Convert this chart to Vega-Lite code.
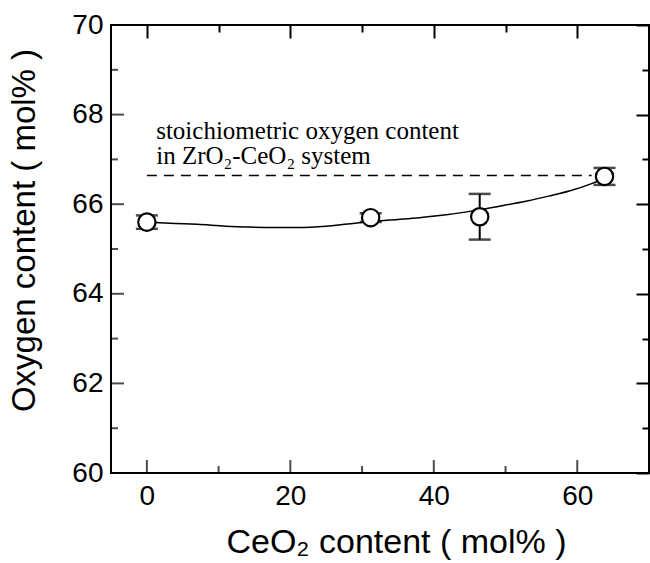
{
  "$schema": "https://vega.github.io/schema/vega-lite/v6.json",
  "width": 538,
  "height": 448,
  "autosize": {"type": "none"},
  "padding": {"left": 111, "top": 25, "right": 1, "bottom": 90},
  "background": "white",
  "config": {
    "view": {"stroke": "black", "strokeWidth": 2},
    "axis": {
      "domain": false,
      "grid": false,
      "labelFont": "Liberation Sans",
      "titleFont": "Liberation Sans",
      "labelColor": "black",
      "titleColor": "black",
      "tickColor": "black",
      "tickWidth": 2,
      "titleFontWeight": "normal"
    }
  },
  "datasets": {
    "curve": [
      {"x": 0, "y": 65.6}, {"x": 4, "y": 65.57}, {"x": 7, "y": 65.55}, {"x": 11, "y": 65.51},
      {"x": 14, "y": 65.49}, {"x": 18, "y": 65.48}, {"x": 21, "y": 65.48}, {"x": 25, "y": 65.51},
      {"x": 28, "y": 65.56}, {"x": 31, "y": 65.61}, {"x": 35, "y": 65.66}, {"x": 38, "y": 65.7},
      {"x": 42, "y": 65.77}, {"x": 45, "y": 65.84}, {"x": 49, "y": 65.95}, {"x": 53, "y": 66.07},
      {"x": 56, "y": 66.18}, {"x": 59, "y": 66.3}, {"x": 62, "y": 66.46}, {"x": 63.8, "y": 66.58}
    ],
    "points": [
      {"x": 0, "y": 65.6, "lo": 65.45, "hi": 65.75},
      {"x": 31.2, "y": 65.7, "lo": 65.6, "hi": 65.8},
      {"x": 46.4, "y": 65.72, "lo": 65.21, "hi": 66.23},
      {"x": 63.8, "y": 66.62, "lo": 66.43, "hi": 66.81}
    ],
    "stoich": [{"x": 0, "y": 66.64}, {"x": 62, "y": 66.64}],
    "notes": [
      {"x": 1.3, "y": 67.46, "text": "stoichiometric oxygen content"},
      {"x": 1.3, "y": 66.9, "text": "in ZrO₂-CeO₂ system"}
    ],
    "xMajor": [{"v": 0}, {"v": 20}, {"v": 40}, {"v": 60}],
    "xMinor": [{"v": 10}, {"v": 30}, {"v": 50}],
    "yMajor": [{"v": 62}, {"v": 64}, {"v": 66}, {"v": 68}],
    "yMinor": [{"v": 61}, {"v": 63}, {"v": 65}, {"v": 67}, {"v": 69}]
  },
  "layer": [
    {
      "data": {"name": "curve"},
      "mark": {"type": "line", "color": "black", "strokeWidth": 1.5, "interpolate": "monotone"},
      "encoding": {
        "x": {
          "field": "x", "type": "quantitative",
          "scale": {"domain": [-5, 70], "nice": false, "zero": false},
          "axis": {
            "orient": "top",
            "values": [0, 10, 20, 30, 40, 50, 60],
            "tickSize": {"condition": {"test": "datum.value % 20 === 0", "value": -13}, "value": -7},
            "labels": false,
            "title": null
          }
        },
        "y": {
          "field": "y", "type": "quantitative",
          "scale": {"domain": [60, 70], "nice": false, "zero": false},
          "axis": {
            "orient": "right",
            "values": [60, 61, 62, 63, 64, 65, 66, 67, 68, 69, 70],
            "tickSize": {"condition": {"test": "datum.value % 2 === 0", "value": -13}, "value": -7},
            "labels": false,
            "title": null
          }
        }
      }
    },
    {
      "data": {"name": "stoich"},
      "mark": {"type": "line", "color": "black", "strokeWidth": 1.5, "strokeDash": [10, 7]},
      "encoding": {
        "x": {
          "field": "x", "type": "quantitative",
          "axis": {
            "orient": "bottom",
            "values": [0, 20, 40, 60],
            "ticks": false,
            "labelFontSize": 28,
            "labelPadding": 9,
            "title": "CeO₂ content ( mol% )",
            "titleFontSize": 34,
            "titleX": 285,
            "titleY": 79,
            "titleAlign": "center",
            "titleBaseline": "alphabetic"
          }
        },
        "y": {
          "field": "y", "type": "quantitative",
          "axis": {
            "orient": "left",
            "values": [60, 62, 64, 66, 68, 70],
            "ticks": false,
            "labelFontSize": 28,
            "labelPadding": 8,
            "title": "Oxygen content ( mol% )",
            "titleFontSize": 33,
            "titleAngle": -90,
            "titleX": -77,
            "titleY": 205,
            "titleAlign": "center",
            "titleBaseline": "alphabetic"
          }
        }
      }
    },
    {
      "data": {"name": "xMajor"},
      "mark": {"type": "tick", "orient": "vertical", "color": "black", "size": 13, "thickness": 2, "yOffset": -6.5},
      "encoding": {
        "x": {"field": "v", "type": "quantitative", "axis": null},
        "y": {"datum": 60, "type": "quantitative", "axis": null}
      }
    },
    {
      "data": {"name": "xMinor"},
      "mark": {"type": "tick", "orient": "vertical", "color": "black", "size": 7, "thickness": 2, "yOffset": -3.5},
      "encoding": {
        "x": {"field": "v", "type": "quantitative", "axis": null},
        "y": {"datum": 60, "type": "quantitative", "axis": null}
      }
    },
    {
      "data": {"name": "yMajor"},
      "mark": {"type": "tick", "orient": "horizontal", "color": "black", "size": 13, "thickness": 2, "xOffset": 6.5},
      "encoding": {
        "y": {"field": "v", "type": "quantitative", "axis": null},
        "x": {"datum": -5, "type": "quantitative", "axis": null}
      }
    },
    {
      "data": {"name": "yMinor"},
      "mark": {"type": "tick", "orient": "horizontal", "color": "black", "size": 7, "thickness": 2, "xOffset": 3.5},
      "encoding": {
        "y": {"field": "v", "type": "quantitative", "axis": null},
        "x": {"datum": -5, "type": "quantitative", "axis": null}
      }
    },
    {
      "data": {"name": "points"},
      "mark": {"type": "rule", "color": "black", "strokeWidth": 2},
      "encoding": {
        "x": {"field": "x", "type": "quantitative", "axis": null},
        "y": {"field": "lo", "type": "quantitative", "axis": null},
        "y2": {"field": "hi"}
      }
    },
    {
      "data": {"name": "points"},
      "mark": {"type": "tick", "orient": "horizontal", "color": "black", "size": 22, "thickness": 2.5},
      "encoding": {
        "x": {"field": "x", "type": "quantitative", "axis": null},
        "y": {"field": "lo", "type": "quantitative", "axis": null}
      }
    },
    {
      "data": {"name": "points"},
      "mark": {"type": "tick", "orient": "horizontal", "color": "black", "size": 22, "thickness": 2.5},
      "encoding": {
        "x": {"field": "x", "type": "quantitative", "axis": null},
        "y": {"field": "hi", "type": "quantitative", "axis": null}
      }
    },
    {
      "data": {"name": "points"},
      "mark": {"type": "point", "shape": "circle", "filled": true, "fill": "white", "stroke": "black", "strokeWidth": 2.2, "size": 300, "opacity": 1},
      "encoding": {
        "x": {"field": "x", "type": "quantitative", "axis": null},
        "y": {"field": "y", "type": "quantitative", "axis": null}
      }
    },
    {
      "data": {"name": "notes"},
      "mark": {"type": "text", "font": "Liberation Serif", "fontSize": 25, "align": "left", "baseline": "alphabetic", "color": "black"},
      "encoding": {
        "x": {"field": "x", "type": "quantitative", "axis": null},
        "y": {"field": "y", "type": "quantitative", "axis": null},
        "text": {"field": "text"}
      }
    }
  ]
}
